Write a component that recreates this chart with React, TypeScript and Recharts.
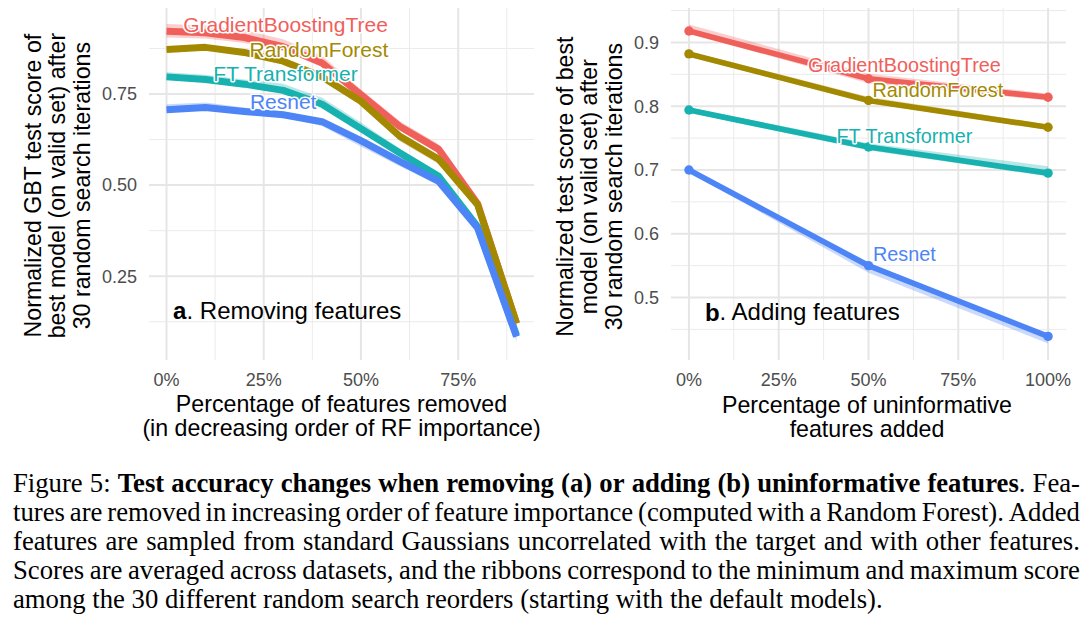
import React from 'react';
import { ComposedChart, Line, Area, XAxis, YAxis, CartesianGrid, ReferenceDot } from 'recharts';

// panel a: features removed (0..90 %)
const removedPct = [0, 10, 20, 30, 40, 50, 60, 70, 80, 90];
const gbtRemoved = [0.922, 0.918, 0.905, 0.88, 0.835, 0.748, 0.661, 0.598, 0.449, 0.12];
const gbtRemovedLo = [0.905, 0.902, 0.89, 0.867, 0.825, 0.738, 0.652, 0.588, 0.442, 0.113];
const gbtRemovedHi = [0.942, 0.938, 0.925, 0.9, 0.855, 0.762, 0.675, 0.612, 0.456, 0.127];
const rfRemoved = [0.872, 0.878, 0.864, 0.84, 0.797, 0.73, 0.634, 0.571, 0.446, 0.121];
const rfRemovedLo = [0.866, 0.872, 0.857, 0.834, 0.79, 0.72, 0.62, 0.558, 0.44, 0.116];
const rfRemovedHi = [0.876, 0.882, 0.869, 0.848, 0.803, 0.737, 0.64, 0.578, 0.451, 0.126];
const ftRemoved = [0.797, 0.79, 0.777, 0.76, 0.722, 0.655, 0.588, 0.524, 0.386, 0.088];
const ftRemovedLo = [0.792, 0.785, 0.772, 0.755, 0.716, 0.648, 0.582, 0.518, 0.381, 0.084];
const ftRemovedHi = [0.81, 0.803, 0.79, 0.778, 0.74, 0.672, 0.6, 0.533, 0.392, 0.094];
const resnetRemoved = [0.707, 0.713, 0.702, 0.693, 0.674, 0.622, 0.565, 0.51, 0.382, 0.084];
const resnetRemovedLo = [0.703, 0.709, 0.697, 0.686, 0.662, 0.606, 0.552, 0.5, 0.375, 0.07];
const resnetRemovedHi = [0.722, 0.727, 0.713, 0.702, 0.68, 0.628, 0.57, 0.515, 0.388, 0.09];

// panel b: uninformative features added (0..100 %)
const addedPct = [0, 50, 100];
const gbtAdded = [0.918, 0.843, 0.814];
const gbtAddedLo = [0.914, 0.836, 0.809];
const gbtAddedHi = [0.928, 0.851, 0.82];
const rfAdded = [0.882, 0.809, 0.767];
const rfAddedLo = [0.878, 0.805, 0.763];
const rfAddedHi = [0.886, 0.815, 0.771];
const ftAdded = [0.794, 0.736, 0.695];
const ftAddedLo = [0.79, 0.731, 0.69];
const ftAddedHi = [0.798, 0.742, 0.706];
const resnetAdded = [0.7, 0.55, 0.439];
const resnetAddedLo = [0.696, 0.539, 0.428];
const resnetAddedHi = [0.703, 0.553, 0.442];

const pctTicks = [0, 25, 50, 75, 100];
const pctMinor = [12.5, 37.5, 62.5, 87.5];
const scoreTicksA = [0.25, 0.5, 0.75];
const scoreMinorA = [0.125, 0.375, 0.625, 0.875];
const scoreTicksB = [0.5, 0.6, 0.7, 0.8, 0.9];
const scoreMinorB = [0.45, 0.55, 0.65, 0.75, 0.85, 0.95];

const COLORS = { ft: '#17B1AF', gbt: '#F0605B', rf: '#A38900', resnet: '#4E85F6' };
const SANS = '"Liberation Sans", Arial, sans-serif';

// drawn in alphabetical order like ggplot: FT, GBT, RF, Resnet
const SERIES = ['ft', 'gbt', 'rf', 'resnet'];

const rowsA = removedPct.map((x, i) => ({
  x,
  gbt: gbtRemoved[i], gbtR: [gbtRemovedLo[i], gbtRemovedHi[i]],
  rf: rfRemoved[i], rfR: [rfRemovedLo[i], rfRemovedHi[i]],
  ft: ftRemoved[i], ftR: [ftRemovedLo[i], ftRemovedHi[i]],
  resnet: resnetRemoved[i], resnetR: [resnetRemovedLo[i], resnetRemovedHi[i]],
}));

const rowsB = addedPct.map((x, i) => ({
  x,
  gbt: gbtAdded[i], gbtR: [gbtAddedLo[i], gbtAddedHi[i]],
  rf: rfAdded[i], rfR: [rfAddedLo[i], rfAddedHi[i]],
  ft: ftAdded[i], ftR: [ftAddedLo[i], ftAddedHi[i]],
  resnet: resnetAdded[i], resnetR: [resnetAddedLo[i], resnetAddedHi[i]],
}));

// series labels placed in data coordinates
const labelsA = [
  { key: 'gbt', text: 'GradientBoostingTree', x: 30.6, y: 0.941 },
  { key: 'rf', text: 'RandomForest', x: 39.2, y: 0.873 },
  { key: 'ft', text: 'FT Transformer', x: 30.6, y: 0.806 },
  { key: 'resnet', text: 'Resnet', x: 30, y: 0.729 },
];
const labelsB = [
  { key: 'gbt', text: 'GradientBoostingTree', x: 60, y: 0.865 },
  { key: 'rf', text: 'RandomForest', x: 69.3, y: 0.826 },
  { key: 'ft', text: 'FT Transformer', x: 60, y: 0.754 },
  { key: 'resnet', text: 'Resnet', x: 60, y: 0.569, plain: true },
];

function Panel({ rows, xDomain, xTicks, yDomain, yTicks, yMinor, yDigits, lineWidth, dots, labels, labelSize, tag, tagText, tagPos, style, width, margin }: any) {
  return (
    <div style={{ position: 'absolute', ...style }}>
      <ComposedChart width={width} height={450} data={rows} margin={margin}>
        <CartesianGrid stroke="#EBEBEB" strokeWidth={1} verticalValues={pctMinor} horizontalValues={yMinor} />
        <CartesianGrid stroke="#E6E6E6" strokeWidth={2} verticalValues={xTicks} horizontalValues={yTicks} />
        <XAxis
          type="number"
          dataKey="x"
          domain={xDomain}
          ticks={xTicks}
          interval={0}
          allowDataOverflow
          height={40}
          axisLine={false}
          tickLine={false}
          tickSize={0}
          tickMargin={13}
          tick={{ fill: '#4D4D4D', fontSize: 18, fontFamily: SANS }}
          tickFormatter={(v: number) => `${v}%`}
        />
        <YAxis
          type="number"
          domain={yDomain}
          ticks={yTicks}
          interval={0}
          allowDataOverflow
          width={60}
          axisLine={false}
          tickLine={false}
          tickSize={0}
          tickMargin={12}
          tick={{ fill: '#4D4D4D', fontSize: 18, fontFamily: SANS }}
          tickFormatter={(v: number) => v.toFixed(yDigits)}
        />
        {SERIES.map((k) => (
          <Area
            key={k + 'R'}
            type="linear"
            dataKey={k + 'R'}
            stroke="none"
            fill={(COLORS as any)[k]}
            fillOpacity={0.3}
            isAnimationActive={false}
            activeDot={false}
          />
        ))}
        {SERIES.map((k) => (
          <Line
            key={k}
            type="linear"
            dataKey={k}
            stroke={(COLORS as any)[k]}
            strokeWidth={lineWidth}
            strokeLinejoin="round"
            dot={dots ? { r: 4.7, fill: (COLORS as any)[k], stroke: 'none' } : false}
            activeDot={false}
            isAnimationActive={false}
          />
        ))}
        {labels.map((l: any) => (
          <ReferenceDot
            key={l.key}
            x={l.x}
            y={l.y}
            r={0}
            shape={(p: any) => (
              <text
                x={p.cx}
                y={p.cy}
                textAnchor="middle"
                dominantBaseline="central"
                fontFamily={SANS}
                fontSize={labelSize}
                fill={(COLORS as any)[l.key]}
                stroke={l.plain ? 'none' : '#fff'}
                strokeWidth={3}
                paintOrder="stroke"
                strokeLinejoin="round"
              >
                {l.text}
              </text>
            )}
          />
        ))}
        <ReferenceDot
          x={tagPos.x}
          y={tagPos.y}
          r={0}
          shape={(p: any) => (
            <text x={p.cx} y={p.cy} dominantBaseline="central" fontFamily={SANS} fontSize={24} fill="#000">
              <tspan fontWeight="bold">{tag}</tspan>. {tagText}
            </text>
          )}
        />
      </ComposedChart>
    </div>
  );
}

const titleStyle: any = {
  position: 'absolute',
  fontFamily: SANS,
  fontSize: 23.2,
  lineHeight: '24.4px',
  color: '#000',
  textAlign: 'center',
  whiteSpace: 'nowrap',
};

// caption, one entry per printed line; words starting with * are bold
const captionLines = [
  'Figure 5: *Test *accuracy *changes *when *removing *(a) *or *adding *(b) *uninformative *features|. Fea-',
  'tures are removed in increasing order of feature importance (computed with a Random Forest). Added',
  'features are sampled from standard Gaussians uncorrelated with the target and with other features.',
  'Scores are averaged across datasets, and the ribbons correspond to the minimum and maximum score',
  'among the 30 different random search reorders (starting with the default models).',
];

function Word({ w }: { w: string }) {
  if (w.startsWith('*')) {
    const [b, rest] = w.slice(1).split('|');
    return (
      <span>
        <b>{b}</b>
        {rest ?? ''}
      </span>
    );
  }
  return <span>{w}</span>;
}

export default function App() {
  return (
    <div style={{ position: 'absolute', left: 0, top: 0, width: 1084, height: 633, background: '#fff', overflow: 'hidden' }}>
      <Panel
        rows={rowsA}
        width={545}
        style={{ left: 0, top: 0 }}
        margin={{ top: 8, left: 89, right: 11, bottom: 50 }}
        xDomain={[-4.5, 94.5]}
        xTicks={[0, 25, 50, 75]}
        yDomain={[0.02, 0.986]}
        yTicks={scoreTicksA}
        yMinor={scoreMinorA}
        yDigits={2}
        lineWidth={7}
        dots={false}
        labels={labelsA}
        labelSize={21}
        tag="a"
        tagText="Removing features"
        tagPos={{ x: 1.7, y: 0.157 }}
      />
      <Panel
        rows={rowsB}
        width={539}
        style={{ left: 545, top: 0 }}
        margin={{ top: 8, left: 66, right: 18, bottom: 50 }}
        xDomain={[-5, 105]}
        xTicks={pctTicks}
        yDomain={[0.402, 0.954]}
        yTicks={scoreTicksB}
        yMinor={scoreMinorB}
        yDigits={1}
        lineWidth={5.7}
        dots
        labels={labelsB}
        labelSize={19.8}
        tag="b"
        tagText="Adding features"
        tagPos={{ x: 4.45, y: 0.478 }}
      />

      <div style={{ ...titleStyle, left: 57.5 - 180, top: 186 - 36.6, width: 360, height: 73.2, transform: 'rotate(-90deg)' }}>
        Normalized GBT test score of<br />best model (on valid set) after<br />30 random search iterations
      </div>
      <div style={{ ...titleStyle, left: 589.5 - 180, top: 186.5 - 36.6, width: 360, height: 73.2, transform: 'rotate(-90deg)' }}>
        Normalized test score of best<br />model (on valid set) after<br />30 random search iterations
      </div>
      <div style={{ ...titleStyle, left: 341.5 - 250, top: 392, width: 500 }}>
        Percentage of features removed<br />(in decreasing order of RF importance)
      </div>
      <div style={{ ...titleStyle, left: 867 - 250, top: 393, width: 500 }}>
        Percentage of uninformative<br />features added
      </div>

      <div style={{ position: 'absolute', left: 13, top: 469, width: 1067, fontFamily: '"Liberation Serif", "Times New Roman", serif', fontSize: 26.7, lineHeight: '28.9px', color: '#000' }}>
        {captionLines.map((line, i) => (
          <div
            key={i}
            style={{ display: 'flex', justifyContent: i < 4 ? 'space-between' : 'flex-start', gap: i < 4 ? 0 : '0.25em', whiteSpace: 'nowrap', height: 28.9 }}
          >
            {line.split(' ').map((w, j) => (
              <Word key={j} w={w} />
            ))}
          </div>
        ))}
      </div>
    </div>
  );
}
